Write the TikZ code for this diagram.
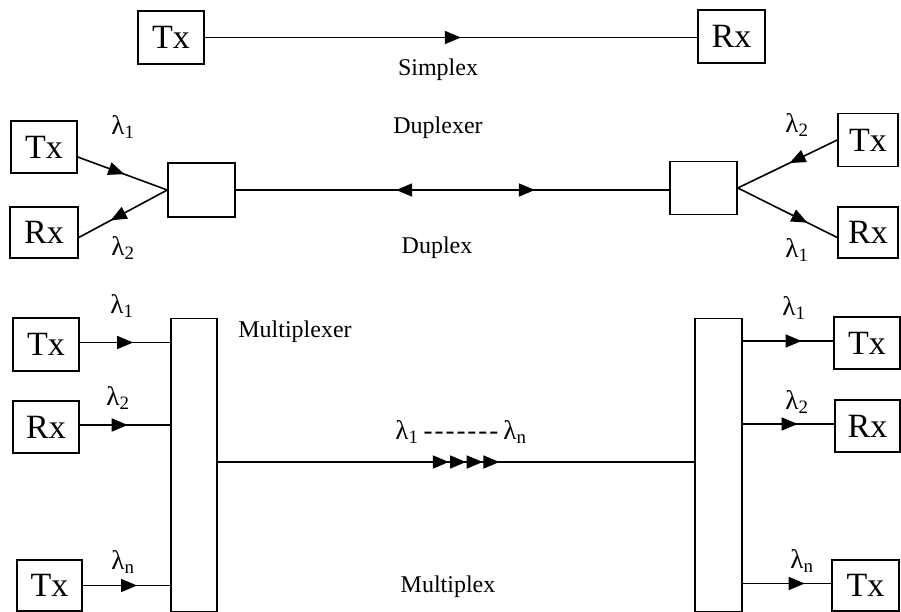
\documentclass[tikz,border=0pt]{standalone}
\usepackage{fontspec}
\setmainfont{Liberation Serif}
\usetikzlibrary{arrows.meta,decorations.markings,calc}
\begin{document}
\begin{tikzpicture}[x=1pt,y=-1pt,
 >={Triangle[length=16pt,width=13pt]},
 box/.style={draw,line width=1.5pt,inner sep=0pt,font=\fontsize{34}{36}\selectfont},
 lbl/.style={font=\fontsize{24}{26}\selectfont,inner sep=0pt},
 lam/.style={font=\fontsize{27}{29}\selectfont,inner sep=0pt},
 wire/.style={line width=1.6pt},
 midarrow/.style={postaction={decorate,decoration={markings,mark=at position #1 with {\arrow{>}}}}},
 midarrowrev/.style={postaction={decorate,decoration={markings,mark=at position #1 with {\arrowreversed{>}}}}},
 quadarrow/.style={postaction={decorate,decoration={markings,
   mark=at position 0.485 with {\arrow{>}},
   mark=at position 0.521 with {\arrow{>}},
   mark=at position 0.556 with {\arrow{>}},
   mark=at position 0.591 with {\arrow{>}}}}}
]
\useasboundingbox[fill=white] (0,0) rectangle (901,612);

% ---------- Simplex ----------
\node[box,minimum width=66pt,minimum height=53pt] (tx0) at (171,37.5) {Tx};
\node[box,minimum width=67pt,minimum height=53pt] (rx0) at (731.5,36.5) {Rx};
\draw[wire,midarrow=0.52] (tx0.east) -- (tx0.east -| rx0.west);
\node[lbl] (simplex) at (438,70) {Simplex};

% ---------- Duplex ----------
\node[box,minimum width=66pt,minimum height=52pt] (tx2) at (44,147) {Tx};
\node[box,minimum width=68pt,minimum height=51pt] (rx2) at (44,232.5) {Rx};
\node[box,minimum width=67pt,minimum height=54pt] (dup1) at (201.5,190) {};
\node[box,minimum width=67pt,minimum height=53pt] (dup2) at (703.5,188) {};
\node[box,minimum width=60pt,minimum height=53pt] (tx3) at (868,140) {Tx};
\node[box,minimum width=60pt,minimum height=51pt] (rx3) at (868,232.5) {Rx};

\draw[wire,midarrow=0.52] ([yshift=-10pt]tx2.east) -- (dup1.west);
\draw[wire,midarrow=0.64] (dup1.west) -- ([yshift=-5pt]rx2.east);
\draw[wire,midarrowrev=0.37,midarrow=0.69] (dup1.east) -- (dup1.east -| dup2.west);
\draw[wire,midarrow=0.48] (tx3.west) -- (dup2.east);
\draw[wire,midarrow=0.70] (dup2.east) -- ([yshift=-5pt]rx3.west);

\node[lam] (l2a) at (123,127) {λ\textsubscript{1}};
\node[lam] (l2b) at (123,248) {λ\textsubscript{2}};
\node[lam] (l2c) at (797,125) {λ\textsubscript{2}};
\node[lam] (l2d) at (797,250) {λ\textsubscript{1}};
\node[lbl] (duplexer) at (438,128) {Duplexer};
\node[lbl] (duplex) at (437,248) {Duplex};

% ---------- Multiplex ----------
\node[box,minimum width=46pt,minimum height=293pt] (mx1) at (194,465) {};
\node[box,minimum width=47pt,minimum height=293pt] (mx2) at (718.5,465) {};
\node[box,minimum width=66pt,minimum height=53pt] (ltx1) at (46,344.5) {Tx};
\node[box,minimum width=66pt,minimum height=52pt] (lrx) at (46,427) {Rx};
\node[box,minimum width=65pt,minimum height=51pt] (ltxn) at (49.5,585.5) {Tx};
\node[box,minimum width=66pt,minimum height=52pt] (rtx1) at (867,343) {Tx};
\node[box,minimum width=65pt,minimum height=52pt] (rrx) at (867.5,426) {Rx};
\node[box,minimum width=67pt,minimum height=51pt] (rtxn) at (865.5,585.5) {Tx};

\draw[wire,midarrow=0.59] ([yshift=2pt]ltx1.east) -- ([yshift=2pt]ltx1.east -| mx1.west);
\draw[wire,midarrow=0.53] ([yshift=2pt]lrx.east) -- ([yshift=2pt]lrx.east -| mx1.west);
\draw[wire,midarrow=0.62] (ltxn.east) -- (ltxn.east -| mx1.west);
\draw[wire,midarrow=0.65] ([yshift=2pt]mx2.east |- rtx1.west) -- ([yshift=2pt]rtx1.west);
\draw[wire,midarrow=0.60] ([yshift=2pt]mx2.east |- rrx.west) -- ([yshift=2pt]rrx.west);
\draw[wire,midarrow=0.70] ([yshift=2pt]mx2.east |- rtxn.west) -- ([yshift=2pt]rtxn.west);
\draw[wire,quadarrow] ([yshift=3pt]mx1.east) -- ([yshift=3pt]mx1.east -| mx2.west);

\node[lam] (l3a) at (122,306) {λ\textsubscript{1}};
\node[lam] (l3b) at (118,398) {λ\textsubscript{2}};
\node[lam] (l3c) at (123,562) {λ\textsubscript{n}};
\node[lam] (l3d) at (794,308) {λ\textsubscript{1}};
\node[lam] (l3e) at (797,402) {λ\textsubscript{2}};
\node[lam] (l3f) at (802,561) {λ\textsubscript{n}};
\node[lam] (lrange) at (461,432) {λ\textsubscript{1}\kern5pt -\kern2pt-\kern2pt-\kern2pt-\kern2pt-\kern2pt-\kern2pt-\kern5pt λ\textsubscript{n}};
\node[lbl] (multiplexer) at (295,332) {Multiplexer};
\node[lbl] (multiplex) at (448,587) {Multiplex};
\end{tikzpicture}
\end{document}
